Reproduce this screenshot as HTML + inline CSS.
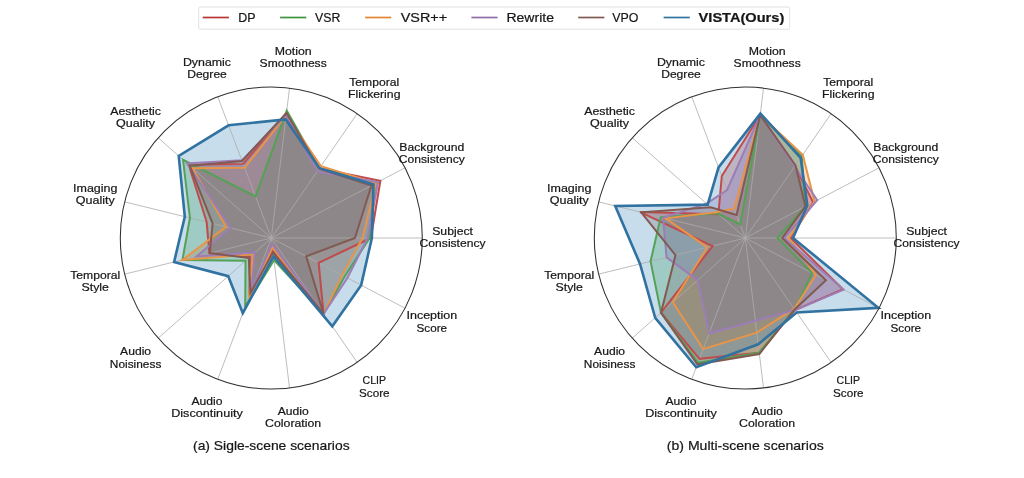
<!DOCTYPE html>
<html><head><meta charset="utf-8"><style>html,body{margin:0;padding:0;background:#fff;width:1024px;height:478px;overflow:hidden}svg{display:block}text{font-family:"Liberation Sans",sans-serif}</style></head>
<body><svg width="1024" height="478" viewBox="0 0 1024 478" font-family="Liberation Sans, sans-serif">
<defs><filter id="bl" filterUnits="userSpaceOnUse" x="0" y="0" width="1024" height="478"><feGaussianBlur stdDeviation="0.45"/></filter></defs>
<rect width="1024" height="478" fill="#ffffff"/>
<g filter="url(#bl)">
<polygon points="370.96,238.00 380.40,180.74 319.34,168.41 286.48,112.98 243.19,163.88 188.68,164.80 206.64,222.06 209.43,253.25 249.83,257.02 249.35,295.89 272.81,250.44 323.62,313.81 318.63,262.84" fill="#d62728" fill-opacity="0.25" stroke="none"/>
<polygon points="369.75,238.00 375.59,183.26 319.34,168.41 286.77,110.59 255.50,196.35 183.03,159.80 189.93,217.94 182.45,259.90 245.53,260.83 245.22,306.76 273.99,260.19 323.62,313.81 344.57,276.45" fill="#2ca02c" fill-opacity="0.25" stroke="none"/>
<polygon points="362.66,238.00 375.86,183.12 320.88,166.17 286.22,115.08 244.69,167.83 192.52,168.21 226.00,226.83 182.45,259.90 252.88,254.32 248.81,297.30 272.46,247.59 323.62,313.81 342.03,275.12" fill="#ff7f0e" fill-opacity="0.25" stroke="none"/>
<polygon points="367.64,238.00 378.00,182.00 317.19,171.52 286.22,115.08 241.85,160.35 186.98,163.30 230.54,227.95 196.38,256.47 255.02,252.42 251.49,290.24 272.03,244.00 323.62,313.81 347.38,277.93" fill="#9467bd" fill-opacity="0.25" stroke="none"/>
<polygon points="354.95,238.00 371.44,185.44 319.16,168.66 286.48,112.98 242.12,161.05 189.81,165.81 212.66,223.55 209.72,253.18 248.81,257.93 250.42,293.06 273.07,252.54 323.62,313.81 306.20,256.32" fill="#8c564b" fill-opacity="0.25" stroke="none"/>
<polygon points="371.87,238.00 373.45,184.39 319.51,168.16 285.70,119.43 228.57,125.33 178.73,155.99 184.80,216.68 174.10,261.96 228.24,276.15 242.81,313.11 273.54,256.44 332.29,326.36 361.15,285.16" fill="#1f77b4" fill-opacity="0.25" stroke="none"/>
<line x1="271.30" y1="238.00" x2="422.30" y2="238.00" stroke="#acacac" stroke-width="0.8"/>
<line x1="271.30" y1="238.00" x2="405.00" y2="167.83" stroke="#acacac" stroke-width="0.8"/>
<line x1="271.30" y1="238.00" x2="357.08" y2="113.73" stroke="#acacac" stroke-width="0.8"/>
<line x1="271.30" y1="238.00" x2="289.50" y2="88.10" stroke="#acacac" stroke-width="0.8"/>
<line x1="271.30" y1="238.00" x2="217.75" y2="96.81" stroke="#acacac" stroke-width="0.8"/>
<line x1="271.30" y1="238.00" x2="158.27" y2="137.87" stroke="#acacac" stroke-width="0.8"/>
<line x1="271.30" y1="238.00" x2="124.69" y2="201.86" stroke="#acacac" stroke-width="0.8"/>
<line x1="271.30" y1="238.00" x2="124.69" y2="274.14" stroke="#acacac" stroke-width="0.8"/>
<line x1="271.30" y1="238.00" x2="158.27" y2="338.13" stroke="#acacac" stroke-width="0.8"/>
<line x1="271.30" y1="238.00" x2="217.75" y2="379.19" stroke="#acacac" stroke-width="0.8"/>
<line x1="271.30" y1="238.00" x2="289.50" y2="387.90" stroke="#acacac" stroke-width="0.8"/>
<line x1="271.30" y1="238.00" x2="357.08" y2="362.27" stroke="#acacac" stroke-width="0.8"/>
<line x1="271.30" y1="238.00" x2="405.00" y2="308.17" stroke="#acacac" stroke-width="0.8"/>
<polygon points="370.96,238.00 380.40,180.74 319.34,168.41 286.48,112.98 243.19,163.88 188.68,164.80 206.64,222.06 209.43,253.25 249.83,257.02 249.35,295.89 272.81,250.44 323.62,313.81 318.63,262.84" fill="none" stroke="#c04c4d" stroke-width="2.0" stroke-linejoin="miter"/>
<polygon points="369.75,238.00 375.59,183.26 319.34,168.41 286.77,110.59 255.50,196.35 183.03,159.80 189.93,217.94 182.45,259.90 245.53,260.83 245.22,306.76 273.99,260.19 323.62,313.81 344.57,276.45" fill="none" stroke="#54a154" stroke-width="2.0" stroke-linejoin="miter"/>
<polygon points="362.66,238.00 375.86,183.12 320.88,166.17 286.22,115.08 244.69,167.83 192.52,168.21 226.00,226.83 182.45,259.90 252.88,254.32 248.81,297.30 272.46,247.59 323.62,313.81 342.03,275.12" fill="none" stroke="#e89449" stroke-width="2.0" stroke-linejoin="miter"/>
<polygon points="367.64,238.00 378.00,182.00 317.19,171.52 286.22,115.08 241.85,160.35 186.98,163.30 230.54,227.95 196.38,256.47 255.02,252.42 251.49,290.24 272.03,244.00 323.62,313.81 347.38,277.93" fill="none" stroke="#9c7eb7" stroke-width="2.0" stroke-linejoin="miter"/>
<polygon points="354.95,238.00 371.44,185.44 319.16,168.66 286.48,112.98 242.12,161.05 189.81,165.81 212.66,223.55 209.72,253.18 248.81,257.93 250.42,293.06 273.07,252.54 323.62,313.81 306.20,256.32" fill="none" stroke="#825a51" stroke-width="2.0" stroke-linejoin="miter"/>
<polygon points="371.87,238.00 373.45,184.39 319.51,168.16 285.70,119.43 228.57,125.33 178.73,155.99 184.80,216.68 174.10,261.96 228.24,276.15 242.81,313.11 273.54,256.44 332.29,326.36 361.15,285.16" fill="none" stroke="#3072a0" stroke-width="2.6" stroke-linejoin="miter"/>
<circle cx="271.30" cy="238.00" r="151.0" fill="none" stroke="#303030" stroke-width="1.05"/>
<text x="432.20" y="235.20" font-size="10.96" textLength="40.79" lengthAdjust="spacingAndGlyphs" fill="#151515" stroke="#151515" stroke-width="0.2">Subject</text>
<text x="419.61" y="247.30" font-size="10.96" textLength="65.97" lengthAdjust="spacingAndGlyphs" fill="#151515" stroke="#151515" stroke-width="0.2">Consistency</text>
<text x="399.29" y="150.95" font-size="10.96" textLength="65.10" lengthAdjust="spacingAndGlyphs" fill="#151515" stroke="#151515" stroke-width="0.2">Background</text>
<text x="398.85" y="163.05" font-size="10.96" textLength="65.97" lengthAdjust="spacingAndGlyphs" fill="#151515" stroke="#151515" stroke-width="0.2">Consistency</text>
<text x="349.31" y="85.99" font-size="10.96" textLength="49.96" lengthAdjust="spacingAndGlyphs" fill="#151515" stroke="#151515" stroke-width="0.2">Temporal</text>
<text x="348.12" y="98.09" font-size="10.96" textLength="52.34" lengthAdjust="spacingAndGlyphs" fill="#151515" stroke="#151515" stroke-width="0.2">Flickering</text>
<text x="274.66" y="55.22" font-size="10.96" textLength="36.99" lengthAdjust="spacingAndGlyphs" fill="#151515" stroke="#151515" stroke-width="0.2">Motion</text>
<text x="259.60" y="67.32" font-size="10.96" textLength="67.10" lengthAdjust="spacingAndGlyphs" fill="#151515" stroke="#151515" stroke-width="0.2">Smoothness</text>
<text x="182.95" y="65.68" font-size="10.96" textLength="48.12" lengthAdjust="spacingAndGlyphs" fill="#151515" stroke="#151515" stroke-width="0.2">Dynamic</text>
<text x="187.15" y="77.78" font-size="10.96" textLength="39.72" lengthAdjust="spacingAndGlyphs" fill="#151515" stroke="#151515" stroke-width="0.2">Degree</text>
<text x="110.15" y="114.98" font-size="10.96" textLength="50.89" lengthAdjust="spacingAndGlyphs" fill="#151515" stroke="#151515" stroke-width="0.2">Aesthetic</text>
<text x="116.10" y="127.08" font-size="10.96" textLength="38.99" lengthAdjust="spacingAndGlyphs" fill="#151515" stroke="#151515" stroke-width="0.2">Quality</text>
<text x="73.10" y="191.81" font-size="10.96" textLength="44.33" lengthAdjust="spacingAndGlyphs" fill="#151515" stroke="#151515" stroke-width="0.2">Imaging</text>
<text x="75.77" y="203.91" font-size="10.96" textLength="38.99" lengthAdjust="spacingAndGlyphs" fill="#151515" stroke="#151515" stroke-width="0.2">Quality</text>
<text x="70.29" y="278.59" font-size="10.96" textLength="49.96" lengthAdjust="spacingAndGlyphs" fill="#151515" stroke="#151515" stroke-width="0.2">Temporal</text>
<text x="81.56" y="290.69" font-size="10.96" textLength="27.41" lengthAdjust="spacingAndGlyphs" fill="#151515" stroke="#151515" stroke-width="0.2">Style</text>
<text x="120.09" y="355.42" font-size="10.96" textLength="31.01" lengthAdjust="spacingAndGlyphs" fill="#151515" stroke="#151515" stroke-width="0.2">Audio</text>
<text x="109.80" y="367.52" font-size="10.96" textLength="51.58" lengthAdjust="spacingAndGlyphs" fill="#151515" stroke="#151515" stroke-width="0.2">Noisiness</text>
<text x="191.50" y="404.72" font-size="10.96" textLength="31.01" lengthAdjust="spacingAndGlyphs" fill="#151515" stroke="#151515" stroke-width="0.2">Audio</text>
<text x="171.20" y="416.82" font-size="10.96" textLength="71.61" lengthAdjust="spacingAndGlyphs" fill="#151515" stroke="#151515" stroke-width="0.2">Discontinuity</text>
<text x="277.65" y="415.18" font-size="10.96" textLength="31.01" lengthAdjust="spacingAndGlyphs" fill="#151515" stroke="#151515" stroke-width="0.2">Audio</text>
<text x="265.12" y="427.28" font-size="10.96" textLength="56.08" lengthAdjust="spacingAndGlyphs" fill="#151515" stroke="#151515" stroke-width="0.2">Coloration</text>
<text x="362.54" y="384.41" font-size="10.96" textLength="23.50" lengthAdjust="spacingAndGlyphs" fill="#151515" stroke="#151515" stroke-width="0.2">CLIP</text>
<text x="359.01" y="396.51" font-size="10.96" textLength="30.56" lengthAdjust="spacingAndGlyphs" fill="#151515" stroke="#151515" stroke-width="0.2">Score</text>
<text x="406.50" y="319.45" font-size="10.96" textLength="50.67" lengthAdjust="spacingAndGlyphs" fill="#151515" stroke="#151515" stroke-width="0.2">Inception</text>
<text x="416.55" y="331.55" font-size="10.96" textLength="30.56" lengthAdjust="spacingAndGlyphs" fill="#151515" stroke="#151515" stroke-width="0.2">Score</text>
<text x="193.02" y="449.70" font-size="12.57" textLength="156.56" lengthAdjust="spacingAndGlyphs" fill="#151515" stroke="#151515" stroke-width="0.2">(a) Sigle-scene scenarios</text>
<polygon points="790.60,238.00 813.09,202.42 795.05,165.92 760.22,115.08 721.79,176.02 718.40,214.17 640.18,212.09 712.61,246.06 660.98,312.70 699.47,358.86 759.22,352.67 795.05,310.08 842.90,289.23" fill="#d62728" fill-opacity="0.25" stroke="none"/>
<polygon points="777.61,238.00 805.33,206.49 801.74,156.23 760.22,115.08 740.16,224.45 717.38,213.27 660.70,217.15 650.59,261.34 660.98,312.70 698.02,362.67 759.22,352.67 794.62,309.46 812.15,273.09" fill="#2ca02c" fill-opacity="0.25" stroke="none"/>
<polygon points="788.79,238.00 814.56,201.65 802.77,154.74 760.22,115.08 734.11,208.49 716.14,212.17 665.54,218.34 707.33,247.36 672.85,302.18 703.16,349.11 756.78,332.59 794.19,308.83 815.90,275.05" fill="#ff7f0e" fill-opacity="0.25" stroke="none"/>
<polygon points="784.26,238.00 817.23,200.25 794.62,166.54 760.22,115.08 727.09,190.00 706.53,203.65 663.05,217.73 666.57,257.41 697.72,280.16 709.10,333.44 755.35,320.74 795.05,310.08 843.57,289.58" fill="#9467bd" fill-opacity="0.25" stroke="none"/>
<polygon points="782.14,238.00 805.47,206.42 795.48,165.30 760.22,115.08 736.57,214.99 710.71,207.36 641.21,212.34 675.51,255.20 660.98,312.70 697.38,364.36 759.39,354.02 794.62,309.46 825.92,280.31" fill="#8c564b" fill-opacity="0.25" stroke="none"/>
<polygon points="793.02,238.00 807.34,205.44 800.63,157.85 760.41,113.58 718.53,167.41 707.66,204.66 615.25,205.95 640.03,263.95 655.22,317.80 696.25,367.33 758.20,344.28 796.68,312.44 878.34,307.82" fill="#1f77b4" fill-opacity="0.25" stroke="none"/>
<line x1="745.30" y1="238.00" x2="896.30" y2="238.00" stroke="#acacac" stroke-width="0.8"/>
<line x1="745.30" y1="238.00" x2="879.00" y2="167.83" stroke="#acacac" stroke-width="0.8"/>
<line x1="745.30" y1="238.00" x2="831.08" y2="113.73" stroke="#acacac" stroke-width="0.8"/>
<line x1="745.30" y1="238.00" x2="763.50" y2="88.10" stroke="#acacac" stroke-width="0.8"/>
<line x1="745.30" y1="238.00" x2="691.75" y2="96.81" stroke="#acacac" stroke-width="0.8"/>
<line x1="745.30" y1="238.00" x2="632.27" y2="137.87" stroke="#acacac" stroke-width="0.8"/>
<line x1="745.30" y1="238.00" x2="598.69" y2="201.86" stroke="#acacac" stroke-width="0.8"/>
<line x1="745.30" y1="238.00" x2="598.69" y2="274.14" stroke="#acacac" stroke-width="0.8"/>
<line x1="745.30" y1="238.00" x2="632.27" y2="338.13" stroke="#acacac" stroke-width="0.8"/>
<line x1="745.30" y1="238.00" x2="691.75" y2="379.19" stroke="#acacac" stroke-width="0.8"/>
<line x1="745.30" y1="238.00" x2="763.50" y2="387.90" stroke="#acacac" stroke-width="0.8"/>
<line x1="745.30" y1="238.00" x2="831.08" y2="362.27" stroke="#acacac" stroke-width="0.8"/>
<line x1="745.30" y1="238.00" x2="879.00" y2="308.17" stroke="#acacac" stroke-width="0.8"/>
<polygon points="790.60,238.00 813.09,202.42 795.05,165.92 760.22,115.08 721.79,176.02 718.40,214.17 640.18,212.09 712.61,246.06 660.98,312.70 699.47,358.86 759.22,352.67 795.05,310.08 842.90,289.23" fill="none" stroke="#c04c4d" stroke-width="2.0" stroke-linejoin="miter"/>
<polygon points="777.61,238.00 805.33,206.49 801.74,156.23 760.22,115.08 740.16,224.45 717.38,213.27 660.70,217.15 650.59,261.34 660.98,312.70 698.02,362.67 759.22,352.67 794.62,309.46 812.15,273.09" fill="none" stroke="#54a154" stroke-width="2.0" stroke-linejoin="miter"/>
<polygon points="788.79,238.00 814.56,201.65 802.77,154.74 760.22,115.08 734.11,208.49 716.14,212.17 665.54,218.34 707.33,247.36 672.85,302.18 703.16,349.11 756.78,332.59 794.19,308.83 815.90,275.05" fill="none" stroke="#e89449" stroke-width="2.0" stroke-linejoin="miter"/>
<polygon points="784.26,238.00 817.23,200.25 794.62,166.54 760.22,115.08 727.09,190.00 706.53,203.65 663.05,217.73 666.57,257.41 697.72,280.16 709.10,333.44 755.35,320.74 795.05,310.08 843.57,289.58" fill="none" stroke="#9c7eb7" stroke-width="2.0" stroke-linejoin="miter"/>
<polygon points="782.14,238.00 805.47,206.42 795.48,165.30 760.22,115.08 736.57,214.99 710.71,207.36 641.21,212.34 675.51,255.20 660.98,312.70 697.38,364.36 759.39,354.02 794.62,309.46 825.92,280.31" fill="none" stroke="#825a51" stroke-width="2.0" stroke-linejoin="miter"/>
<polygon points="793.02,238.00 807.34,205.44 800.63,157.85 760.41,113.58 718.53,167.41 707.66,204.66 615.25,205.95 640.03,263.95 655.22,317.80 696.25,367.33 758.20,344.28 796.68,312.44 878.34,307.82" fill="none" stroke="#3072a0" stroke-width="2.6" stroke-linejoin="miter"/>
<circle cx="745.30" cy="238.00" r="151.0" fill="none" stroke="#303030" stroke-width="1.05"/>
<text x="906.20" y="235.20" font-size="10.96" textLength="40.79" lengthAdjust="spacingAndGlyphs" fill="#151515" stroke="#151515" stroke-width="0.2">Subject</text>
<text x="893.61" y="247.30" font-size="10.96" textLength="65.97" lengthAdjust="spacingAndGlyphs" fill="#151515" stroke="#151515" stroke-width="0.2">Consistency</text>
<text x="873.29" y="150.95" font-size="10.96" textLength="65.10" lengthAdjust="spacingAndGlyphs" fill="#151515" stroke="#151515" stroke-width="0.2">Background</text>
<text x="872.85" y="163.05" font-size="10.96" textLength="65.97" lengthAdjust="spacingAndGlyphs" fill="#151515" stroke="#151515" stroke-width="0.2">Consistency</text>
<text x="823.31" y="85.99" font-size="10.96" textLength="49.96" lengthAdjust="spacingAndGlyphs" fill="#151515" stroke="#151515" stroke-width="0.2">Temporal</text>
<text x="822.12" y="98.09" font-size="10.96" textLength="52.34" lengthAdjust="spacingAndGlyphs" fill="#151515" stroke="#151515" stroke-width="0.2">Flickering</text>
<text x="748.66" y="55.22" font-size="10.96" textLength="36.99" lengthAdjust="spacingAndGlyphs" fill="#151515" stroke="#151515" stroke-width="0.2">Motion</text>
<text x="733.60" y="67.32" font-size="10.96" textLength="67.10" lengthAdjust="spacingAndGlyphs" fill="#151515" stroke="#151515" stroke-width="0.2">Smoothness</text>
<text x="656.95" y="65.68" font-size="10.96" textLength="48.12" lengthAdjust="spacingAndGlyphs" fill="#151515" stroke="#151515" stroke-width="0.2">Dynamic</text>
<text x="661.15" y="77.78" font-size="10.96" textLength="39.72" lengthAdjust="spacingAndGlyphs" fill="#151515" stroke="#151515" stroke-width="0.2">Degree</text>
<text x="584.15" y="114.98" font-size="10.96" textLength="50.89" lengthAdjust="spacingAndGlyphs" fill="#151515" stroke="#151515" stroke-width="0.2">Aesthetic</text>
<text x="590.10" y="127.08" font-size="10.96" textLength="38.99" lengthAdjust="spacingAndGlyphs" fill="#151515" stroke="#151515" stroke-width="0.2">Quality</text>
<text x="547.10" y="191.81" font-size="10.96" textLength="44.33" lengthAdjust="spacingAndGlyphs" fill="#151515" stroke="#151515" stroke-width="0.2">Imaging</text>
<text x="549.77" y="203.91" font-size="10.96" textLength="38.99" lengthAdjust="spacingAndGlyphs" fill="#151515" stroke="#151515" stroke-width="0.2">Quality</text>
<text x="544.29" y="278.59" font-size="10.96" textLength="49.96" lengthAdjust="spacingAndGlyphs" fill="#151515" stroke="#151515" stroke-width="0.2">Temporal</text>
<text x="555.56" y="290.69" font-size="10.96" textLength="27.41" lengthAdjust="spacingAndGlyphs" fill="#151515" stroke="#151515" stroke-width="0.2">Style</text>
<text x="594.09" y="355.42" font-size="10.96" textLength="31.01" lengthAdjust="spacingAndGlyphs" fill="#151515" stroke="#151515" stroke-width="0.2">Audio</text>
<text x="583.80" y="367.52" font-size="10.96" textLength="51.58" lengthAdjust="spacingAndGlyphs" fill="#151515" stroke="#151515" stroke-width="0.2">Noisiness</text>
<text x="665.50" y="404.72" font-size="10.96" textLength="31.01" lengthAdjust="spacingAndGlyphs" fill="#151515" stroke="#151515" stroke-width="0.2">Audio</text>
<text x="645.20" y="416.82" font-size="10.96" textLength="71.61" lengthAdjust="spacingAndGlyphs" fill="#151515" stroke="#151515" stroke-width="0.2">Discontinuity</text>
<text x="751.65" y="415.18" font-size="10.96" textLength="31.01" lengthAdjust="spacingAndGlyphs" fill="#151515" stroke="#151515" stroke-width="0.2">Audio</text>
<text x="739.12" y="427.28" font-size="10.96" textLength="56.08" lengthAdjust="spacingAndGlyphs" fill="#151515" stroke="#151515" stroke-width="0.2">Coloration</text>
<text x="836.54" y="384.41" font-size="10.96" textLength="23.50" lengthAdjust="spacingAndGlyphs" fill="#151515" stroke="#151515" stroke-width="0.2">CLIP</text>
<text x="833.01" y="396.51" font-size="10.96" textLength="30.56" lengthAdjust="spacingAndGlyphs" fill="#151515" stroke="#151515" stroke-width="0.2">Score</text>
<text x="880.50" y="319.45" font-size="10.96" textLength="50.67" lengthAdjust="spacingAndGlyphs" fill="#151515" stroke="#151515" stroke-width="0.2">Inception</text>
<text x="890.55" y="331.55" font-size="10.96" textLength="30.56" lengthAdjust="spacingAndGlyphs" fill="#151515" stroke="#151515" stroke-width="0.2">Score</text>
<text x="666.86" y="449.70" font-size="12.57" textLength="156.88" lengthAdjust="spacingAndGlyphs" fill="#151515" stroke="#151515" stroke-width="0.2">(b) Multi-scene scenarios</text>
<rect x="198.7" y="7.0" width="591.0" height="22.2" rx="1.5" ry="1.5" fill="#ffffff" fill-opacity="0.8" stroke="#dedede" stroke-width="0.9"/>
<line x1="202.70000000000002" y1="17.5" x2="228.9" y2="17.5" stroke="#b73435" stroke-width="1.7"/>
<text x="238.30" y="21.90" font-size="12.65" textLength="17.28" lengthAdjust="spacingAndGlyphs" fill="#151515" stroke="#151515" stroke-width="0.2">DP</text>
<line x1="280.09999999999997" y1="17.5" x2="306.3" y2="17.5" stroke="#3d943d" stroke-width="1.7"/>
<text x="315.10" y="21.90" font-size="12.65" textLength="25.35" lengthAdjust="spacingAndGlyphs" fill="#151515" stroke="#151515" stroke-width="0.2">VSR</text>
<line x1="365.09999999999997" y1="17.5" x2="391.3" y2="17.5" stroke="#e58531" stroke-width="1.7"/>
<text x="400.70" y="21.90" font-size="12.65" textLength="46.44" lengthAdjust="spacingAndGlyphs" fill="#151515" stroke="#151515" stroke-width="0.2">VSR++</text>
<line x1="471.4" y1="17.5" x2="497.6" y2="17.5" stroke="#8f6dad" stroke-width="1.7"/>
<text x="506.40" y="21.90" font-size="12.65" textLength="47.57" lengthAdjust="spacingAndGlyphs" fill="#151515" stroke="#151515" stroke-width="0.2">Rewrite</text>
<line x1="578.1999999999999" y1="17.5" x2="604.4" y2="17.5" stroke="#825a51" stroke-width="1.7"/>
<text x="612.30" y="21.90" font-size="12.65" textLength="26.11" lengthAdjust="spacingAndGlyphs" fill="#151515" stroke="#151515" stroke-width="0.2">VPO</text>
<line x1="663.6" y1="17.5" x2="689.8000000000001" y2="17.5" stroke="#3072a0" stroke-width="1.7"/>
<text x="698.60" y="21.90" font-size="12.65" font-weight="bold" textLength="85.70" lengthAdjust="spacingAndGlyphs" fill="#151515" stroke="#151515" stroke-width="0.2">VISTA(Ours)</text>
</g>
</svg></body></html>
